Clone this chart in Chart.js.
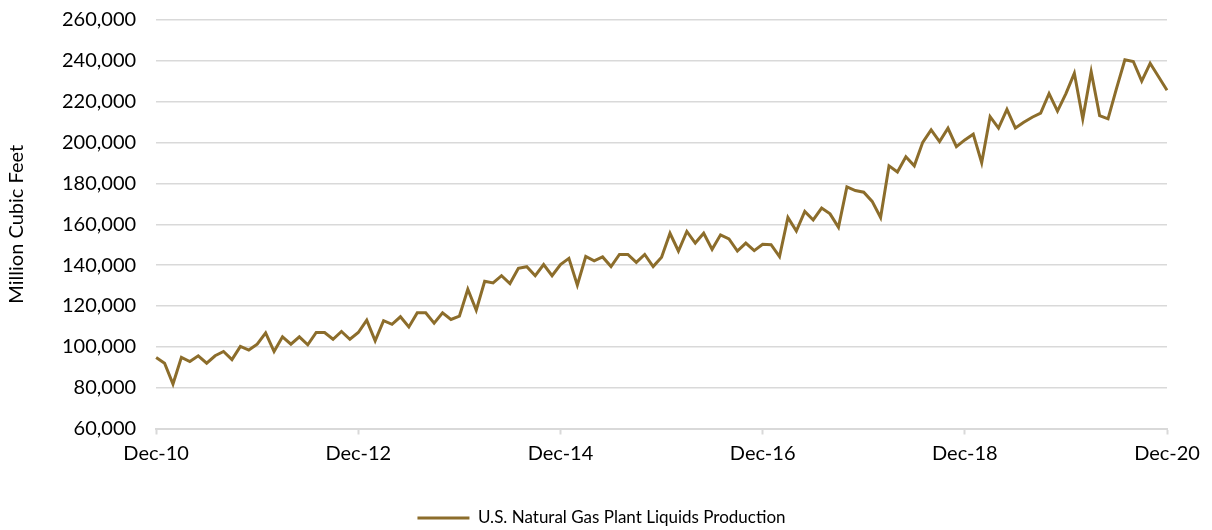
<!DOCTYPE html>
<html>
<head>
<meta charset="utf-8">
<script src="https://cdn.jsdelivr.net/npm/chart.js@4"></script>
<style>
  html, body { margin: 0; padding: 0; background: #ffffff; }
  #wrap { width: 1212px; height: 530px; position: relative; }
</style>
</head>
<body>
<div id="wrap"><canvas id="c"></canvas></div>
<script>
// Months Dec-10 .. Dec-20
const monthNames = ['Jan','Feb','Mar','Apr','May','Jun','Jul','Aug','Sep','Oct','Nov','Dec'];
const categories = [];
for (let y = 10; y <= 20; y++) {
  for (let m = 0; m < 12; m++) {
    if (y === 10 && m < 11) continue;
    categories.push(monthNames[m] + '-' + y);
  }
}
categories.splice(121);

const tickLabels = ['Dec-10', 'Dec-12', 'Dec-14', 'Dec-16', 'Dec-18', 'Dec-20'];

// U.S. Natural Gas Plant Liquids Production, Million Cubic Feet
const nglProduction = [
  94800, 92000, 81800, 94800, 92800, 95600, 92000, 95600, 97700, 93700,
  100200, 98400, 101300, 106800, 97700, 104900, 101300, 104900, 101000, 107000,
  107000, 103700, 107500, 103700, 107000, 113000, 102900, 112800, 111000, 114700,
  109700, 116700, 116700, 111600, 116600, 113400, 115000, 128200, 117900, 132100,
  131300, 134800, 131000, 138400, 139200, 134800, 140300, 134800, 140300, 143300,
  130200, 144200, 142100, 144000, 139300, 145200, 145200, 141300, 145200, 139300,
  143900, 155600, 146900, 156500, 150800, 155600, 147700, 154800, 152800, 146900,
  150800, 147100, 150200, 150000, 144200, 163300, 156700, 166300, 162100, 167900,
  165100, 158500, 178300, 176500, 175700, 171200, 163300, 188600, 185600, 193000,
  188600, 200100, 206200, 200500, 207000, 198000, 201300, 204100, 190100, 212700,
  207100, 216200, 207100, 209900, 212400, 214400, 224000, 215400, 224000, 233900,
  211600, 234700, 213200, 211600, 226400, 240500, 239700, 230100, 238800, 232200,
  225600
];

const seriesName = 'U.S. Natural Gas Plant Liquids Production';
const yTitle = 'Million Cubic Feet';
const lineColor = '#8c6d2b';
const gridColor = '#d9d9d9';
const fontFamily = 'Lato, "Open Sans", sans-serif';

new Chart(document.getElementById('c'), {
  type: 'line',
  data: {
    labels: categories,
    datasets: [{
      label: seriesName,
      data: nglProduction,
      borderColor: lineColor,
      backgroundColor: lineColor,
      borderWidth: 3,
      pointRadius: 0,
      pointHoverRadius: 0,
      tension: 0,
      fill: false
    }]
  },
  options: {
    responsive: true,
    maintainAspectRatio: false,
    animation: false,
    layout: { padding: { top: 0, left: 3, right: 12, bottom: -6.5 } },
    plugins: {
      tooltip: { enabled: false },
      legend: {
        position: 'bottom',
        labels: {
          usePointStyle: true,
          pointStyle: 'line',
          pointStyleWidth: 52,
          boxHeight: 3,
          color: '#000000',
          padding: 26,
          font: { family: fontFamily, size: 17 }
        }
      }
    },
    scales: {
      x: {
        type: 'category',
        afterBuildTicks: (scale) => {
          scale.ticks = scale.ticks.filter(t => tickLabels.includes(categories[t.value]));
        },
        afterFit: (scale) => {
          scale.height += 11;
          scale.paddingRight = 45;
        },
        ticks: {
          autoSkip: false,
          maxRotation: 0,
          minRotation: 0,
          color: '#000000',
          padding: 7,
          font: { family: fontFamily, size: 20 }
        },
        grid: {
          display: true,
          drawOnChartArea: false,
          drawTicks: true,
          tickLength: 6,
          tickColor: gridColor,
          tickWidth: 2
        },
        border: { display: true, color: gridColor, width: 2 }
      },
      y: {
        min: 60000,
        max: 260000,
        ticks: {
          stepSize: 20000,
          color: '#000000',
          padding: 8,
          font: { family: fontFamily, size: 20 },
          callback: (v) => Number(v).toLocaleString('en-US')
        },
        grid: {
          color: gridColor,
          lineWidth: 1.5,
          drawTicks: true,
          tickLength: 12,
          tickColor: 'rgba(0,0,0,0)'
        },
        border: { display: false },
        title: {
          display: true,
          text: yTitle,
          color: '#000000',
          padding: { top: 2, bottom: 25 },
          font: { family: fontFamily, size: 20 }
        }
      }
    }
  }
});
</script>
</body>
</html>
